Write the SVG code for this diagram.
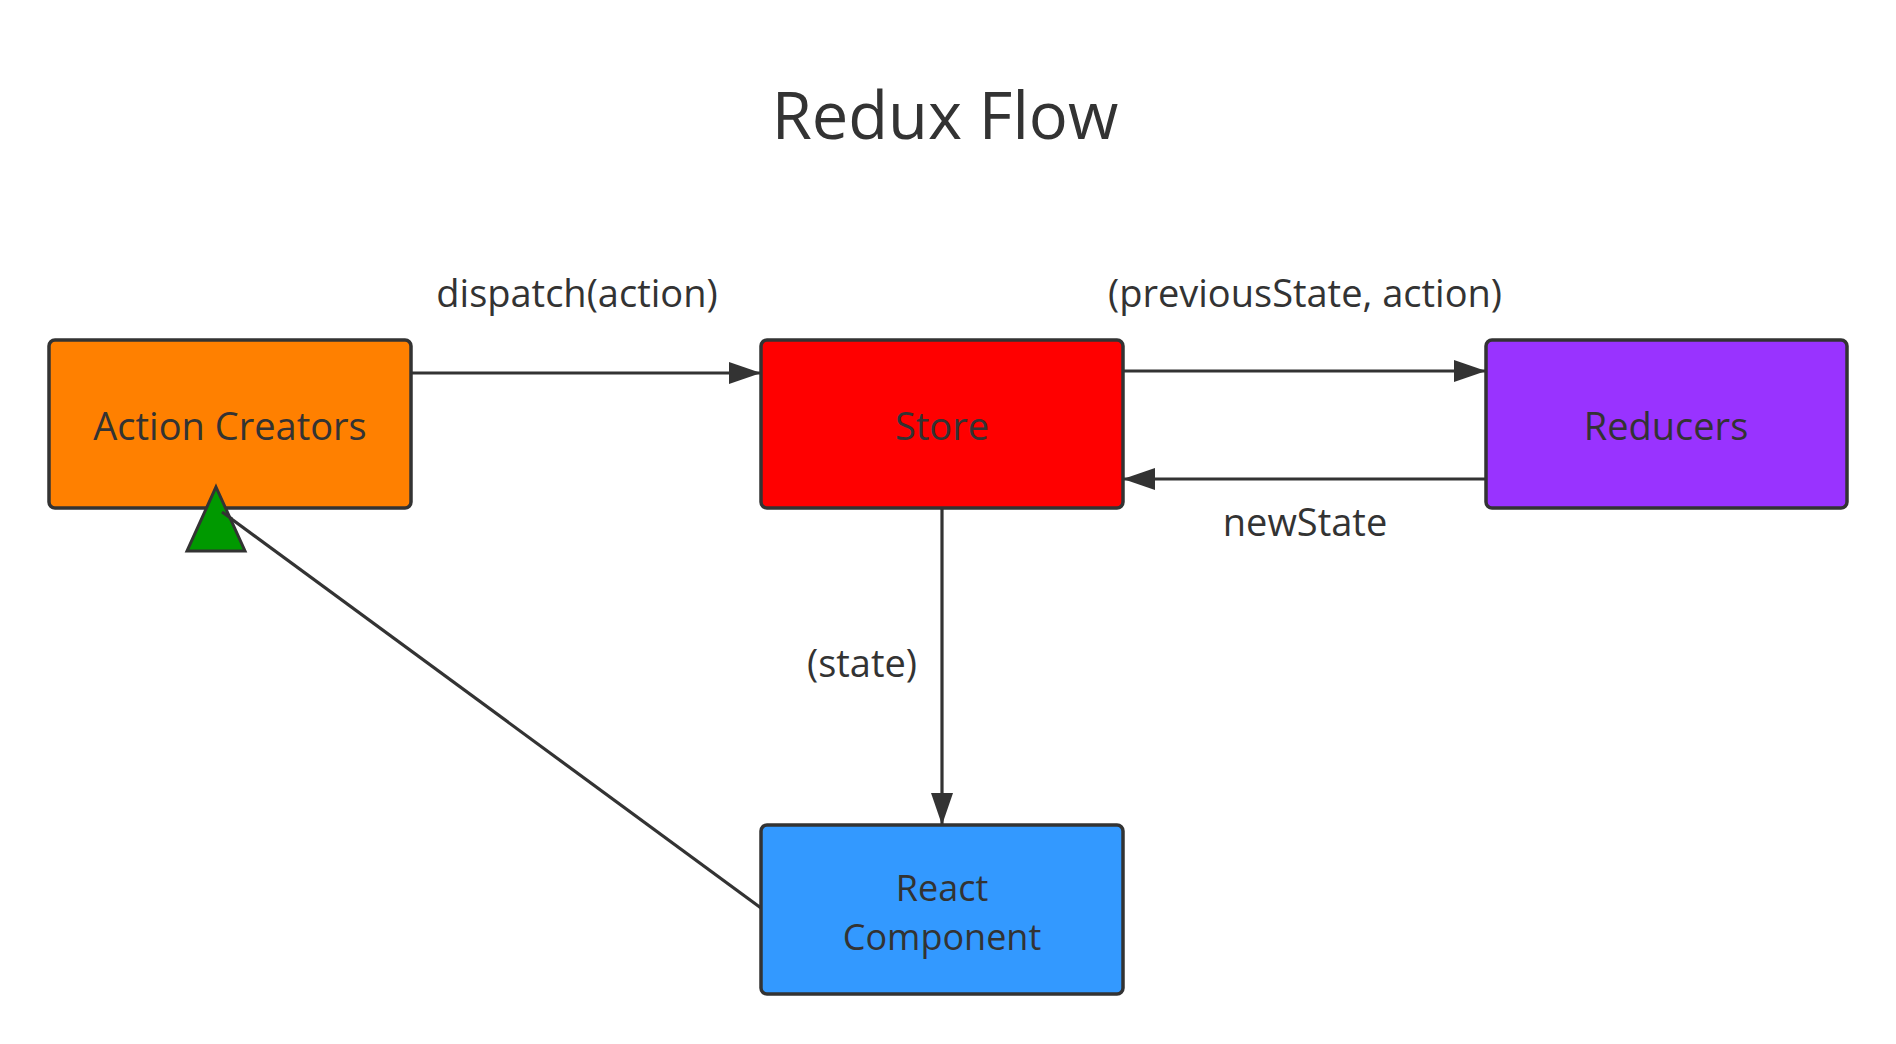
<svg xmlns="http://www.w3.org/2000/svg" width="1896" height="1044" viewBox="0 0 1896 1044">
<style>
text{font-family:"Open Sans","Noto Sans","DejaVu Sans",sans-serif;fill:#333333;text-anchor:middle}
.lbl{font-size:38px}
.lbl2{font-size:36px}
.title{font-size:65px}
.box{stroke:#333333;stroke-width:3.5}
.edge{stroke:#333333;stroke-width:3.2;fill:none}
</style>
<defs>
<marker id="arr" markerUnits="userSpaceOnUse" markerWidth="34" markerHeight="24" refX="32" refY="11" orient="auto">
<path d="M0,0 L32,11 L0,22 z" fill="#333333"/>
</marker>
</defs>
<rect width="1896" height="1044" fill="#ffffff"/>
<text class="title" x="945" y="139">Redux Flow</text>
<g id="connectors">
<line class="edge" x1="400" y1="373" x2="761" y2="373" marker-end="url(#arr)"/>
<line class="edge" x1="1123" y1="371" x2="1486" y2="371" marker-end="url(#arr)"/>
<line class="edge" x1="1486" y1="479" x2="1123" y2="479" marker-end="url(#arr)"/>
<line class="edge" x1="942" y1="508" x2="942" y2="825" marker-end="url(#arr)"/>
<line class="edge" x1="761" y1="908" x2="222" y2="512"/>
<text class="lbl" x="577" y="307">dispatch(action)</text>
<text class="lbl" x="1305" y="307">(previousState, action)</text>
<text class="lbl" x="1305" y="536">newState</text>
<text class="lbl" x="862" y="677">(state)</text>
</g>
<g id="action-creators">
<rect class="box" x="49" y="340" width="362" height="168" rx="6" fill="#FF8000"/>
<text class="lbl" x="230" y="440">Action Creators</text>
</g>
<g id="store">
<rect class="box" x="761" y="340" width="362" height="168" rx="6" fill="#FF0000"/>
<text class="lbl" x="942" y="440">Store</text>
</g>
<g id="reducers">
<rect class="box" x="1486" y="340" width="361" height="168" rx="6" fill="#9933FF"/>
<text class="lbl" x="1666" y="440">Reducers</text>
</g>
<g id="react-component">
<rect class="box" x="761" y="825" width="362" height="169" rx="6" fill="#3399FF"/>
<text class="lbl2" x="942" y="901">React</text>
<text class="lbl2" x="942" y="950">Component</text>
</g>
<g id="triangle-head">
<polygon points="216,487 245,551 187,551" fill="#009900" stroke="#333333" stroke-width="3"/>
<line class="edge" x1="232" y1="519" x2="222" y2="512"/>
</g>
</svg>
